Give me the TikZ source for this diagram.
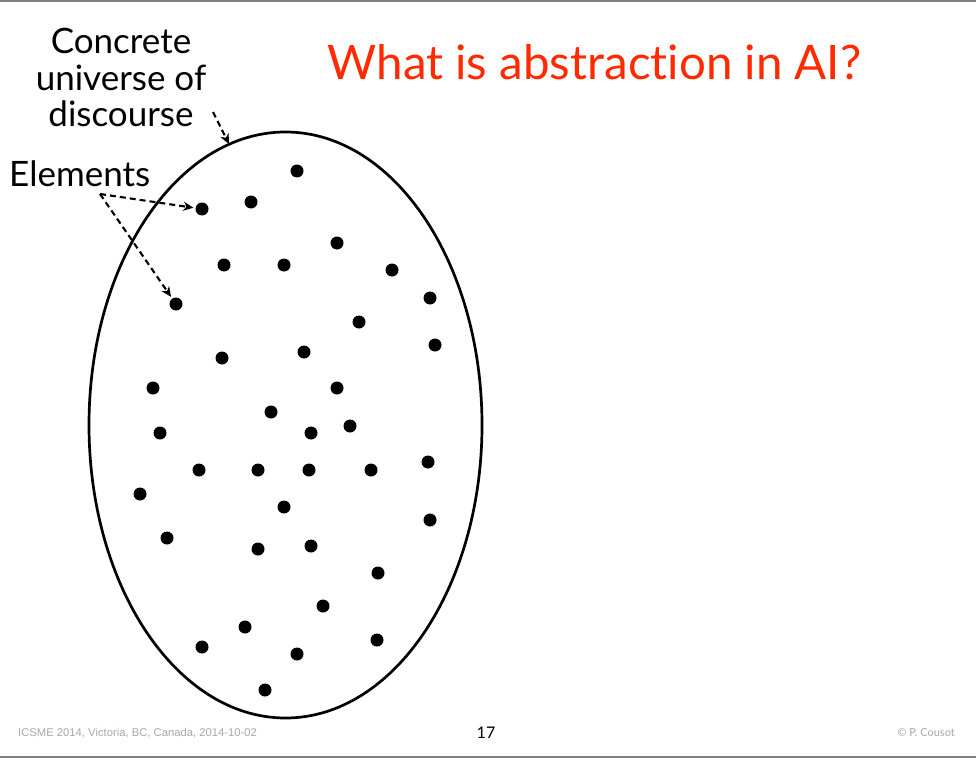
\documentclass[tikz,border=0pt]{standalone}
\usepackage{fontspec}
\setmainfont{Lato}[Ligatures={NoCommon,NoRare},Contextuals=NoAlternate]
\newfontfamily\footfont{Liberation Sans}
\usetikzlibrary{arrows.meta,shapes.geometric}
\definecolor{titlered}{HTML}{FF2A00}
\definecolor{rulegray}{HTML}{808080}
\definecolor{footgray}{HTML}{A8A8A8}
\begin{document}
\begin{tikzpicture}[x=1pt,y=-1pt,
  elem/.style={circle,fill=black,inner sep=0pt,minimum size=13pt},
  lbl/.style={font=\fontsize{35}{36.5}\selectfont,inner sep=0pt,align=center},
  ptr/.style={line width=2.1pt,dash pattern=on 6pt off 4pt,shorten >=2pt,-{Stealth[length=10pt,width=9pt,inset=3pt]}}]
\useasboundingbox (0,0) rectangle (976,762);
\draw[rulegray,line width=2pt] (0,1.5) -- (976,1.5);
\draw[rulegray,line width=2pt] (0,756.5) -- (976,756.5);
\node[anchor=base,text=titlered,font=\fontsize{47.5}{54}\selectfont,inner sep=0pt] (title) at (594.5,80) {What is abstraction in AI?};
\node[ellipse,draw,line width=2.7pt,minimum width=393pt,minimum height=586pt,inner sep=0pt] (U) at (285.5,425) {};
\node[lbl,anchor=north] (conc) at (121,28) {Concrete\\universe of\\discourse};
\node[lbl,anchor=base west] (elems) at (9,186) {Elements};
\foreach \n/\x/\y in {d1/297/171,d2/251/202,e1/202/209,d4/337/243,d5/224/265,d6/284/265,d7/392/270,d8/430/298,e2/176/304,d10/359/322,d11/435/345,d12/222/358,d13/304/352,d14/153/388,d15/337/388,d16/271/412,d17/160/433,d18/311/433,d19/350/426,d20/199/470,d21/258/470,d22/309/470,d23/371/470,d24/428/462,d25/140/494,d26/284/507,d27/430/520,d28/167/538,d29/258/549,d30/311/546,d31/378/573,d32/323/606,d33/245/627,d34/202/647,d35/297/654,d36/377/640,d37/265/690}
  \node[elem] (\n) at (\x,\y) {};
\coordinate (cstart) at (213,112);
\coordinate (cend) at (229,144);
\coordinate (estart) at (100,194);
\draw[ptr,shorten >=0pt] (cstart) -- (cend);
\draw[ptr] (estart) -- (e1);
\draw[ptr] (estart) -- (e2);
\node[anchor=base west,text=footgray,font=\footfont\fontsize{11.25}{12}\selectfont,inner sep=0pt] (f1) at (18,736) {ICSME 2014, Victoria, BC, Canada, 2014-10-02};
\node[anchor=base,font=\fontsize{16}{17}\selectfont,inner sep=0pt] (f2) at (486,738) {17};
\node[anchor=base east,text=footgray,font=\fontsize{11}{12}\selectfont,inner sep=0pt] (f3) at (955,736) {© P. Cousot};
\end{tikzpicture}
\end{document}
